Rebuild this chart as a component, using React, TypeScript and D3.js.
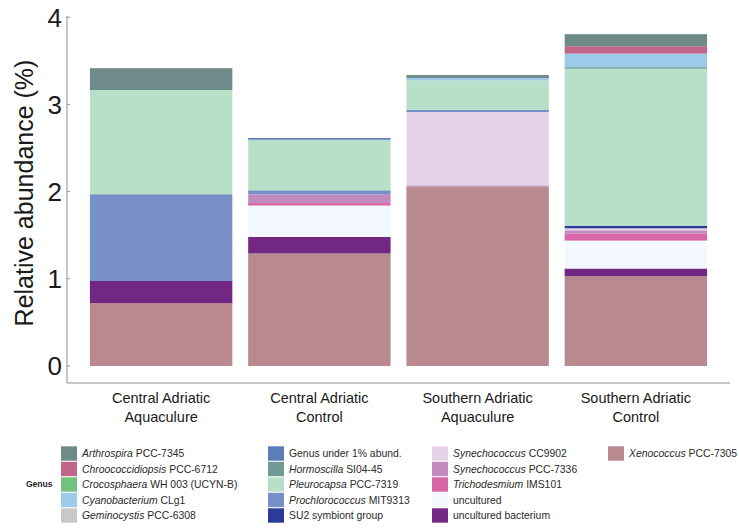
import { useRef, useEffect } from "react";
import * as d3 from "d3";

const samples = [
  ["Central Adriatic", "Aquaculure"],
  ["Central Adriatic", "Control"],
  ["Southern Adriatic", "Aquaculure"],
  ["Southern Adriatic", "Control"],
];

// legend order (top of the stack is first)
const genera = [
  ["Arthrospira", "PCC-7345"],
  ["Chroococcidiopsis", "PCC-6712"],
  ["Crocosphaera", "WH 003 (UCYN-B)"],
  ["Cyanobacterium", "CLg1"],
  ["Geminocystis", "PCC-6308"],
  ["", "Genus under 1% abund."],
  ["Hormoscilla", "SI04-45"],
  ["Pleurocapsa", "PCC-7319"],
  ["Prochlorococcus", "MIT9313"],
  ["", "SU2 symbiont group"],
  ["Synechococcus", "CC9902"],
  ["Synechococcus", "PCC-7336"],
  ["Trichodesmium", "IMS101"],
  ["", "uncultured"],
  ["", "uncultured bacterium"],
  ["Xenococcus", "PCC-7305"],
];

const colors = [
  "#6f8a88", "#c0668a", "#70c27c", "#9ccbe9", "#c8c8c8", "#5a7fb9",
  "#6f9a96", "#b8e0c8", "#7890c8", "#2c3b99", "#e6d3e8", "#c08abf",
  "#d966a6", "#f2f8fd", "#722882", "#b88a90",
];

// relative abundance (%) per sample, same order as samples
const arthrospira = [0.25, 0, 0.035, 0.138];
const chroococcidiopsis = [0, 0, 0, 0.085];
const crocosphaera = [0, 0, 0, 0];
const cyanobacterium = [0, 0, 0.025, 0.155];
const geminocystis = [0, 0, 0, 0];
const under1 = [0, 0.02, 0, 0];
const hormoscilla = [0, 0, 0, 0.018];
const pleurocapsa = [1.195, 0.58, 0.34, 1.8];
const prochlorococcus = [0.995, 0.045, 0.025, 0];
const su2 = [0, 0, 0, 0.03];
const synCC9902 = [0, 0, 0.84, 0.023];
const synPCC7336 = [0, 0.1, 0.012, 0.038];
const trichodesmium = [0, 0.03, 0, 0.08];
const uncultured = [0, 0.36, 0, 0.32];
const unculturedBacterium = [0.255, 0.19, 0, 0.088];
const xenococcus = [0.72, 1.29, 2.06, 1.03];

const series = [
  arthrospira, chroococcidiopsis, crocosphaera, cyanobacterium, geminocystis,
  under1, hormoscilla, pleurocapsa, prochlorococcus, su2, synCC9902,
  synPCC7336, trichodesmium, uncultured, unculturedBacterium, xenococcus,
];

const yTicks = [0, 1, 2, 3, 4];

export default function App() {
  const svgRef = useRef<SVGSVGElement>(null);

  useEffect(() => {
    if (!svgRef.current) return;
    const svg = d3.select(svgRef.current);
    svg.selectAll("*").remove();

    const font = "Liberation Sans, Arial, sans-serif";
    const axisColor = "#8f8f8f";

    const x = d3
      .scaleBand<number>()
      .domain(samples.map((_, i) => i))
      .range([82, 715])
      .paddingInner(0.1)
      .paddingOuter(0.05);
    const y = d3.scaleLinear().domain([0, 4]).range([366, 17.2]);

    // table for the stack: one row per sample
    const keys = genera.map((_, i) => String(i));
    const rows = samples.map((_, s) => {
      const r: Record<string, number> = {};
      series.forEach((v, g) => (r[String(g)] = v[s]));
      return r;
    });
    // bottom of stack is the last legend entry
    const stack = d3.stack<Record<string, number>>().keys(keys.slice().reverse());
    const layers = stack(rows);

    layers.forEach((layer) => {
      const gi = +layer.key;
      svg
        .append("g")
        .selectAll("rect")
        .data(layer.map((d, s) => ({ d, s })))
        .enter()
        .filter((e) => e.d[1] - e.d[0] > 0)
        .append("rect")
        .attr("x", (e) => x(e.s)!)
        .attr("width", x.bandwidth())
        .attr("y", (e) => y(e.d[1]))
        .attr("height", (e) => y(e.d[0]) - y(e.d[1]))
        .attr("fill", colors[gi]);
    });

    // axes
    svg
      .append("line")
      .attr("x1", 67)
      .attr("x2", 67)
      .attr("y1", 16)
      .attr("y2", 383)
      .attr("stroke", axisColor);
    svg
      .append("line")
      .attr("x1", 67)
      .attr("x2", 730)
      .attr("y1", 383)
      .attr("y2", 383)
      .attr("stroke", axisColor);

    const ty = svg.append("g");
    yTicks.forEach((t) => {
      ty.append("line")
        .attr("x1", 67)
        .attr("x2", 70)
        .attr("y1", y(t))
        .attr("y2", y(t))
        .attr("stroke", axisColor);
      ty.append("text")
        .attr("x", 62)
        .attr("y", y(t))
        .attr("dy", "0.36em")
        .attr("text-anchor", "end")
        .attr("font-family", font)
        .attr("font-size", 26)
        .attr("fill", "#1a1a1a")
        .text(t);
    });

    svg
      .append("text")
      .attr("transform", "translate(33,193) rotate(-90)")
      .attr("text-anchor", "middle")
      .attr("font-family", font)
      .attr("font-size", 25)
      .attr("fill", "#1a1a1a")
      .text("Relative abundance (%)");

    samples.forEach((lines, i) => {
      const cx = x(i)! + x.bandwidth() / 2;
      lines.forEach((l, k) => {
        svg
          .append("text")
          .attr("x", cx)
          .attr("y", 403 + k * 18.5)
          .attr("text-anchor", "middle")
          .attr("font-family", font)
          .attr("font-size", 14.5)
          .attr("fill", "#1a1a1a")
          .text(l);
      });
    });

    // legend
    const colX = [61, 268, 432, 608];
    const rowY0 = 453.5;
    const rowH = 15.5;
    svg
      .append("text")
      .attr("x", 26)
      .attr("y", rowY0 + 2 * rowH)
      .attr("dy", "0.35em")
      .attr("font-family", font)
      .attr("font-size", 8.5)
      .attr("font-weight", "bold")
      .attr("fill", "#222")
      .text("Genus");

    genera.forEach(([it, rest], i) => {
      const c = Math.floor(i / 5);
      const r = i % 5;
      const lx = colX[c];
      const ly = rowY0 + r * rowH;
      svg
        .append("rect")
        .attr("x", lx)
        .attr("y", ly - 7.2)
        .attr("width", 16)
        .attr("height", 14.4)
        .attr("fill", colors[i]);
      const t = svg
        .append("text")
        .attr("x", lx + 21)
        .attr("y", ly)
        .attr("dy", "0.36em")
        .attr("font-family", font)
        .attr("font-size", 10.4)
        .attr("fill", "#2a2a2a");
      if (it) {
        t.append("tspan").attr("font-style", "italic").text(it);
        t.append("tspan").text(" " + rest);
      } else {
        t.append("tspan").text(rest);
      }
    });
  }, []);

  return (
    <svg
      ref={svgRef}
      width={739}
      height={528}
      style={{ position: "absolute", left: 0, top: 0, background: "#fff" }}
    />
  );
}
